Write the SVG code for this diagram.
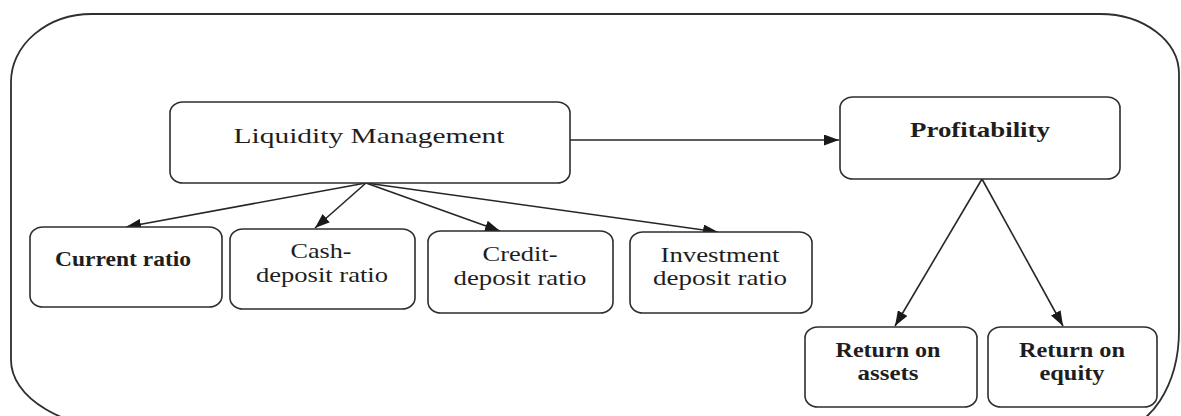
<svg xmlns="http://www.w3.org/2000/svg" width="1181" height="416" viewBox="0 0 1181 416">
  <defs>
    <style>
      .frame { fill: none; stroke: #2e2e2e; stroke-width: 1.8; }
      .node { fill: #ffffff; stroke: #2e2e2e; stroke-width: 1.6; }
      .lbl { font-family: "Liberation Serif", "Times New Roman", serif; font-size: 22px; fill: #1e1e1e; text-anchor: middle; }
      .b { font-weight: bold; }
      .conn { fill: none; stroke: #262626; stroke-width: 1.6; marker-end: url(#arrow); }
    </style>
    <marker id="arrow" markerUnits="userSpaceOnUse" markerWidth="15" markerHeight="11" refX="15" refY="5.5" orient="auto">
      <path d="M0,0 L15,5.5 L0,11 z" fill="#1a1a1a"/>
    </marker>
  </defs>
  <rect width="1181" height="416" fill="#ffffff"/>

  <g id="frame">
    <path class="frame" d="M92,14 L1100,14 A79,60 0 0 1 1179,74 L1179,330 A65,100 0 0 1 1114,430 L131,430 A120,70 0 0 1 11,360 L11,82 A81,68 0 0 1 92,14 Z"/>
  </g>

  <g id="connectors">
    <path class="conn" d="M570,140 L839,140"/>
    <path class="conn" d="M366,183 L126,227"/>
    <path class="conn" d="M366,183 L315,228"/>
    <path class="conn" d="M366,183 L500,231"/>
    <path class="conn" d="M366,183 L718,232"/>
    <path class="conn" d="M982,179 L895,326"/>
    <path class="conn" d="M982,179 L1063,326"/>
  </g>

  <g id="liquidity-management">
    <rect class="node" x="170" y="102" width="400" height="81" rx="13" ry="11"/>
    <text class="lbl" x="369" y="143" textLength="271" lengthAdjust="spacingAndGlyphs">Liquidity Management</text>
  </g>

  <g id="profitability">
    <rect class="node" x="840" y="97" width="280" height="82" rx="13" ry="11"/>
    <text class="lbl b" x="980" y="137" textLength="140" lengthAdjust="spacingAndGlyphs">Profitability</text>
  </g>

  <g id="current-ratio">
    <rect class="node" x="30" y="227" width="192" height="80" rx="13" ry="11"/>
    <text class="lbl b" x="123" y="266" textLength="136" lengthAdjust="spacingAndGlyphs">Current ratio</text>
  </g>

  <g id="cash-deposit-ratio">
    <rect class="node" x="230" y="229" width="185" height="80" rx="13" ry="11"/>
    <text class="lbl" x="321" y="258" textLength="61" lengthAdjust="spacingAndGlyphs">Cash-</text>
    <text class="lbl" x="322" y="282" textLength="132" lengthAdjust="spacingAndGlyphs">deposit ratio</text>
  </g>

  <g id="credit-deposit-ratio">
    <rect class="node" x="428" y="231" width="185" height="82" rx="13" ry="11"/>
    <text class="lbl" x="520" y="261" textLength="75" lengthAdjust="spacingAndGlyphs">Credit-</text>
    <text class="lbl" x="520" y="285" textLength="133" lengthAdjust="spacingAndGlyphs">deposit ratio</text>
  </g>

  <g id="investment-deposit-ratio">
    <rect class="node" x="630" y="232" width="182" height="81" rx="13" ry="11"/>
    <text class="lbl" x="720" y="262" textLength="119" lengthAdjust="spacingAndGlyphs">Investment</text>
    <text class="lbl" x="720" y="285" textLength="134" lengthAdjust="spacingAndGlyphs">deposit ratio</text>
  </g>

  <g id="return-on-assets">
    <rect class="node" x="805" y="327" width="172" height="80" rx="13" ry="11"/>
    <text class="lbl b" x="888" y="357" textLength="105" lengthAdjust="spacingAndGlyphs">Return on</text>
    <text class="lbl b" x="888" y="380" textLength="61" lengthAdjust="spacingAndGlyphs">assets</text>
  </g>

  <g id="return-on-equity">
    <rect class="node" x="988" y="327" width="169" height="80" rx="13" ry="11"/>
    <text class="lbl b" x="1072" y="357" textLength="106" lengthAdjust="spacingAndGlyphs">Return on</text>
    <text class="lbl b" x="1072" y="380" textLength="65" lengthAdjust="spacingAndGlyphs">equity</text>
  </g>
</svg>
